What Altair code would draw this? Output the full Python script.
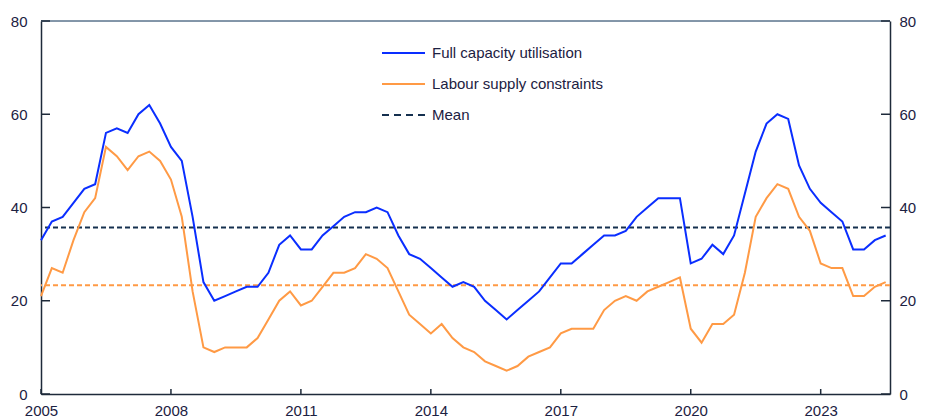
import altair as alt
import pandas as pd

# ---- data (quarterly, 2005Q1 .. 2024Q3) ----
start_year = 2005
n_quarters = 79
full_capacity = [33, 37, 38, 41, 44, 45, 56, 57, 56, 60, 62, 58, 53, 50, 38, 24,
                 20, 21, 22, 23, 23, 26, 32, 34, 31, 31, 34, 36, 38, 39, 39, 40,
                 39, 34, 30, 29, 27, 25, 23, 24, 23, 20, 18, 16, 18, 20, 22, 25,
                 28, 28, 30, 32, 34, 34, 35, 38, 40, 42, 42, 42, 28, 29, 32, 30,
                 34, 43, 52, 58, 60, 59, 49, 44, 41, 39, 37, 31, 31, 33, 34]
labour_supply = [21, 27, 26, 33, 39, 42, 53, 51, 48, 51, 52, 50, 46, 38, 22, 10,
                 9, 10, 10, 10, 12, 16, 20, 22, 19, 20, 23, 26, 26, 27, 30, 29,
                 27, 22, 17, 15, 13, 15, 12, 10, 9, 7, 6, 5, 6, 8, 9, 10,
                 13, 14, 14, 14, 18, 20, 21, 20, 22, 23, 24, 25, 14, 11, 15, 15,
                 17, 26, 38, 42, 45, 44, 38, 35, 28, 27, 27, 21, 21, 23, 24]
series_names = ["Full capacity utilisation", "Labour supply constraints"]
mean_values = [35.7, 23.3]
legend_labels = ["Full capacity utilisation", "Labour supply constraints", "Mean"]
x_ticks = [2005, 2008, 2011, 2014, 2017, 2020, 2023]
y_ticks = [0, 20, 40, 60, 80]

# ---- styling ----
BLUE = "#0A2EFF"
ORANGE = "#FF9A45"
NAVY = "#15304F"
TEXT = "#1C2142"
AXIS = "#1E2A3A"
BORDER = "#7D91A5"
FONT = "Liberation Sans"
W, H = 849, 373

dates = [start_year + i * 0.25 for i in range(n_quarters)]
df = pd.DataFrame({
    "date": dates * 2,
    "value": full_capacity + labour_supply,
    "series": [series_names[0]] * n_quarters + [series_names[1]] * n_quarters,
})
means = pd.DataFrame({"series": series_names, "mean": mean_values,
                      "color": [NAVY, ORANGE]})
yt = pd.DataFrame({"v": y_ticks})
xt = pd.DataFrame({"v": x_ticks})

xscale = alt.Scale(domain=[2005, 2024.6], nice=False, zero=False)
yscale = alt.Scale(domain=[0, 80], nice=False)

lines = alt.Chart(df).mark_line(strokeWidth=2).encode(
    x=alt.X("date:Q", scale=xscale,
            axis=alt.Axis(values=x_ticks, format="d", title=None, ticks=False,
                          grid=False, domainColor=AXIS, domainWidth=1.5,
                          labelFont=FONT, labelFontSize=15, labelColor=TEXT,
                          labelPadding=9, labelFlush=False)),
    y=alt.Y("value:Q", scale=yscale, axis=None),
    color=alt.Color("series:N", scale=alt.Scale(domain=series_names, range=[BLUE, ORANGE]),
                    legend=None),
)

mean_rules = alt.Chart(means).mark_rule(strokeWidth=2, strokeDash=[5, 3]).encode(
    y=alt.Y("mean:Q", scale=yscale, axis=None),
    color=alt.Color("color:N", scale=None),
)

top_border = alt.Chart(means).mark_rule(color=BORDER, strokeWidth=1.5).encode(
    x=alt.value(0), x2=alt.value(W), y=alt.value(0)
)

left_ticks = alt.Chart(yt).mark_rule(color=AXIS, strokeWidth=1.5).encode(
    y=alt.Y("v:Q", scale=yscale,
            axis=alt.Axis(orient="left", values=y_ticks, title=None, ticks=False, grid=False,
                          domainColor=AXIS, domainWidth=1.5, labelFont=FONT,
                          labelFontSize=15, labelColor=TEXT, labelPadding=14)),
    x=alt.value(0), x2=alt.value(9),
)

right_ticks = alt.Chart(yt).mark_rule(color=AXIS, strokeWidth=1.5).encode(
    y=alt.Y("v:Q", scale=yscale,
            axis=alt.Axis(orient="right", values=y_ticks, title=None, ticks=False, grid=False,
                          domainColor=AXIS, domainWidth=1.5, labelFont=FONT,
                          labelFontSize=15, labelColor=TEXT, labelPadding=9)),
    x=alt.value(W - 9), x2=alt.value(W),
)

bottom_ticks = alt.Chart(xt).mark_rule(color=AXIS, strokeWidth=1.5).encode(
    x=alt.X("v:Q", scale=xscale),
    y=alt.value(H - 5), y2=alt.value(H),
)

# ---- manual legend ----
leg_rows = [32, 63, 94]
leg_colors = [BLUE, ORANGE, NAVY]
leg_dashes = [[1, 0], [1, 0], [7, 5]]
legend_layers = []
for i, lab in enumerate(legend_labels):
    ldf = pd.DataFrame({"label": [lab]})
    legend_layers.append(
        alt.Chart(ldf).mark_rule(color=leg_colors[i], strokeWidth=2,
                                 strokeDash=leg_dashes[i]).encode(
            x=alt.value(341), x2=alt.value(384), y=alt.value(leg_rows[i]))
    )
    legend_layers.append(
        alt.Chart(ldf).mark_text(align="left", baseline="middle", font=FONT,
                                 fontSize=15, color=TEXT).encode(
            x=alt.value(391), y=alt.value(leg_rows[i]), text="label:N")
    )

chart = alt.layer(
    mean_rules, lines, top_border, left_ticks, right_ticks, bottom_ticks, *legend_layers
).resolve_axis(y="independent").properties(
    width=W, height=H,
    autosize=alt.AutoSizeParams(type="none"),
    padding={"left": 33, "top": 13, "right": 27, "bottom": 25},
).configure_view(stroke=None).configure(background="white")

chart.save("out.html", embed_options={"renderer": "svg", "actions": False})
